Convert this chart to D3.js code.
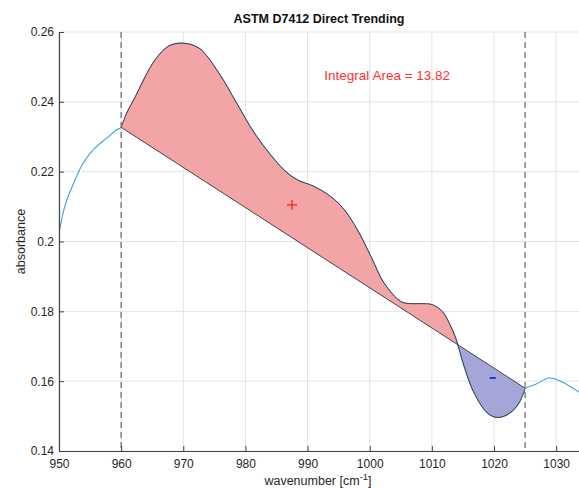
<!DOCTYPE html>
<html>
<head>
<meta charset="utf-8">
<script src="https://cdn.jsdelivr.net/npm/d3@7"></script>
<style>
  body { margin: 0; background: #fff; }
  svg { font-family: "Liberation Sans", Arial, sans-serif; }
</style>
</head>
<body>
<svg id="chart" width="579" height="488"></svg>
<script>
// spectrum
const waveX = [950, 951, 952.6, 953.9, 955.8, 957.7, 959.3, 960, 960.9, 962.3, 963.9, 965.5, 967.6, 969.8,
  972.5, 975.7, 978.5, 981.8, 986.2, 988.3, 991, 993.7, 995.9, 998, 1000.2, 1002.3, 1005, 1006.6, 1008.2,
  1010.1, 1011.7, 1012.8, 1013.9, 1015.2, 1016.8, 1019, 1020.6, 1022.5, 1024.1, 1025, 1026.8, 1028.9,
  1030.8, 1033.9];
const absorb = [0.2024, 0.2105, 0.2177, 0.2225, 0.2268, 0.2296, 0.2320, 0.2327, 0.2368, 0.2415, 0.2473,
  0.2521, 0.2559, 0.2568, 0.2554, 0.2483, 0.2399, 0.2301, 0.2205, 0.2177, 0.2158, 0.2129, 0.2091, 0.2034,
  0.1957, 0.1881, 0.1828, 0.1822, 0.1822, 0.1819, 0.1799, 0.1766, 0.1720, 0.1642, 0.1566, 0.1508, 0.1496,
  0.1508, 0.1540, 0.1578, 0.1592, 0.1609, 0.1599, 0.1566];

// integration limits and baseline ends
const limits = [960, 1025];
const baseY = [0.2327, 0.1580];

const xTicks = [950, 960, 970, 980, 990, 1000, 1010, 1020, 1030];
const yTicks = [0.14, 0.16, 0.18, 0.2, 0.22, 0.24, 0.26];

const plusPt = [987.5, 0.2105];
const minusPt = [1019.8, 0.1609];
const areaLabel = "Integral Area = 13.82";
const labelPos = [992.7, 0.2475];

const plotL = 59, plotR = 581, plotT = 32, plotB = 451;

const svg = d3.select("#chart");
const x = d3.scaleLinear().domain([950, 1034]).range([plotL, plotR]);
const y = d3.scaleLinear().domain([0.14, 0.26]).range([plotB, plotT]);

const pts = waveX.map((w, i) => [w, absorb[i]]);
const baseAt = (w) => baseY[0] + (w - limits[0]) / (limits[1] - limits[0]) * (baseY[1] - baseY[0]);

const defs = svg.append("defs");
defs.append("clipPath").attr("id", "plotClip")
  .append("rect").attr("x", plotL).attr("y", plotT).attr("width", plotR - plotL).attr("height", plotB - plotT);
defs.append("clipPath").attr("id", "limClip")
  .append("rect").attr("x", x(limits[0])).attr("y", 0)
  .attr("width", x(limits[1]) - x(limits[0])).attr("height", 488);
defs.append("clipPath").attr("id", "aboveClip")
  .append("polygon").attr("points", [
    [x(limits[0]), 0], [x(limits[0]), y(baseY[0])], [x(limits[1]), y(baseY[1])], [x(limits[1]), 0]
  ].join(" "));
defs.append("clipPath").attr("id", "belowClip")
  .append("polygon").attr("points", [
    [x(limits[0]), y(baseY[0])], [x(limits[1]), y(baseY[1])], [x(limits[1]), 488], [x(limits[0]), 488]
  ].join(" "));

// grid
const grid = svg.append("g").attr("stroke", "#e3e3e3").attr("stroke-width", 1);
grid.selectAll(".gx").data(xTicks).enter().append("line")
  .attr("x1", (d) => x(d)).attr("x2", (d) => x(d)).attr("y1", plotT).attr("y2", plotB);
grid.selectAll(".gy").data(yTicks).enter().append("line")
  .attr("x1", plotL).attr("x2", plotR).attr("y1", (d) => y(d)).attr("y2", (d) => y(d));

const smooth = d3.curveCatmullRom.alpha(0.5);
const line = d3.line().x((d) => x(d[0])).y((d) => y(d[1])).curve(smooth);
const inLim = pts.filter((d) => d[0] >= limits[0] && d[0] <= limits[1]);

// blue spectrum
svg.append("path").datum(pts).attr("clip-path", "url(#plotClip)")
  .attr("fill", "none").attr("stroke", "#3d9de0").attr("stroke-width", 1.1)
  .attr("d", line);

// filled areas between curve and baseline
const area = d3.area().x((d) => x(d[0])).y0((d) => y(baseAt(d[0]))).y1((d) => y(d[1]))
  .curve(smooth);
svg.append("path").datum(inLim).attr("clip-path", "url(#aboveClip)")
  .attr("fill", "#f3a4a7").attr("d", area);
svg.append("path").datum(inLim).attr("clip-path", "url(#belowClip)")
  .attr("fill", "#a3a6d6").attr("d", area);

// outlines
svg.append("path").datum(inLim).attr("clip-path", "url(#limClip)")
  .attr("fill", "none").attr("stroke", "#333").attr("stroke-width", 0.9).attr("d", line);
svg.append("line")
  .attr("x1", x(limits[0])).attr("y1", y(baseY[0])).attr("x2", x(limits[1])).attr("y2", y(baseY[1]))
  .attr("stroke", "#333").attr("stroke-width", 0.9);

// integration limit dashes
svg.selectAll(".lim").data(limits).enter().append("line")
  .attr("x1", (d) => x(d)).attr("x2", (d) => x(d)).attr("y1", plotT).attr("y2", plotB)
  .attr("stroke", "#666").attr("stroke-width", 1.2).attr("stroke-dasharray", "6,4");

// markers
svg.append("path")
  .attr("d", `M${x(plusPt[0]) - 5},${y(plusPt[1])}h10M${x(plusPt[0])},${y(plusPt[1]) - 5}v10`)
  .attr("stroke", "#ff2020").attr("stroke-width", 1.3);
svg.append("path")
  .attr("d", `M${x(minusPt[0]) - 3},${y(minusPt[1])}h6`)
  .attr("stroke", "#1a3fd0").attr("stroke-width", 2);

svg.append("text").attr("x", x(labelPos[0])).attr("y", y(labelPos[1]))
  .attr("dy", "0.35em").attr("font-size", 13.5).attr("fill", "#ff3333").text(areaLabel);

// axes
const xAxis = d3.axisBottom(x).tickValues(xTicks).tickSizeInner(-5).tickSizeOuter(0).tickPadding(8)
  .tickFormat((d) => String(d));
const gx = svg.append("g").attr("transform", `translate(0,${plotB})`).call(xAxis);
const yAxis = d3.axisLeft(y).tickValues(yTicks).tickSizeInner(-5).tickSizeOuter(0).tickPadding(5)
  .tickFormat((d) => String(+d.toFixed(2)));
const gy = svg.append("g").attr("transform", `translate(${plotL},0)`).call(yAxis);
[gx, gy].forEach((g) => {
  g.select(".domain").attr("stroke", "#444").attr("stroke-width", 1.2);
  g.selectAll(".tick line").attr("stroke", "#444");
  g.selectAll("text").attr("font-size", 12).attr("fill", "#262626")
    .attr("font-family", "'Liberation Sans', Arial, sans-serif");
});

// titles
svg.append("text").attr("x", (plotL + 579) / 2).attr("y", 23).attr("text-anchor", "middle")
  .attr("font-size", 12.5).attr("font-weight", "bold").attr("fill", "#111").text("ASTM D7412 Direct Trending");

const xl = svg.append("text").attr("x", 318).attr("y", 485).attr("text-anchor", "middle")
  .attr("font-size", 12.5).attr("fill", "#262626");
xl.append("tspan").text("wavenumber [cm");
xl.append("tspan").attr("dy", -5).attr("font-size", 9.5).text("-1");
xl.append("tspan").attr("dy", 5).text("]");

svg.append("text").attr("transform", `translate(25,${(plotT + plotB) / 2}) rotate(-90)`)
  .attr("text-anchor", "middle").attr("font-size", 12.5).attr("fill", "#262626").text("absorbance");
</script>
</body>
</html>
